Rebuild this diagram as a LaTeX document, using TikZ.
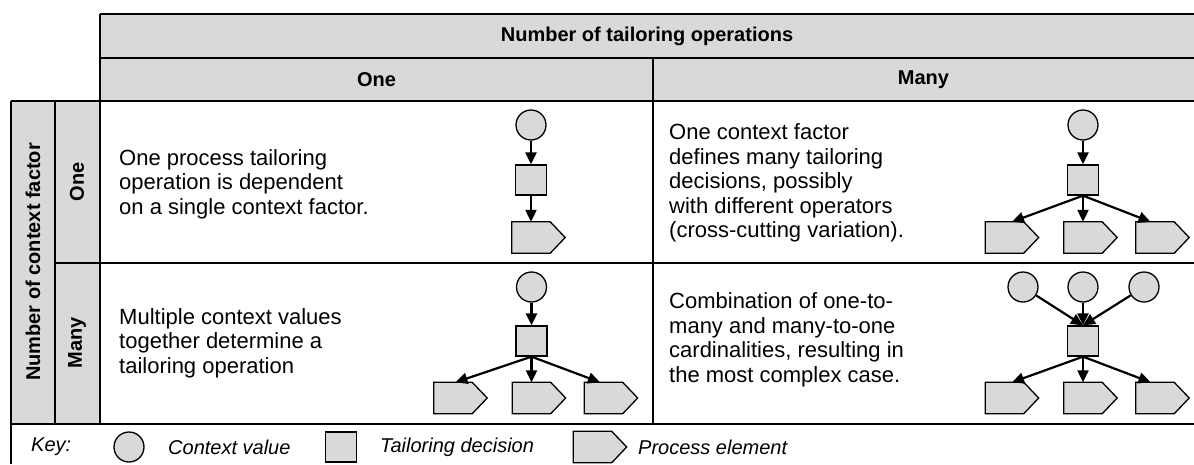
\documentclass[tikz,border=0pt]{standalone}
\usepackage{fontspec}
\setmainfont{Liberation Sans}
\usetikzlibrary{arrows.meta}
\definecolor{cellgrey}{HTML}{D9D9D9}

% outline of a process element: a box with a pointed right side
\newcommand\pelshape[1]{%
  \draw[line width=1.3pt, fill=cellgrey]
    (#1.north west) -- ([xshift=-15pt]#1.north east) -- (#1.east)
    -- ([xshift=-15pt]#1.south east) -- (#1.south west) -- cycle;}

\begin{document}
\begin{tikzpicture}[x=1pt, y=-1pt,
  font=\fontsize{20}{22}\selectfont,
  grid/.style={line width=1.6pt, draw=black},
  ctx/.style={circle, draw, fill=cellgrey, line width=1.3pt, minimum size=30pt, inner sep=0},
  dec/.style={rectangle, draw, fill=cellgrey, line width=1.3pt, minimum width=31pt, minimum height=30pt, inner sep=0},
  pel/.style={minimum width=53pt, minimum height=31pt, inner sep=0},
  flow/.style={line width=2.2pt, -{Triangle[length=12pt, width=11pt]}},
  hdr/.style={font=\fontsize{20}{22}\selectfont\bfseries},
  body/.style={align=left, anchor=west, inner sep=0, font=\fontsize{22}{24.5}\selectfont},
  keytext/.style={anchor=west, inner sep=0, font=\fontsize{20}{22}\selectfont\itshape},
]
\useasboundingbox (0,0) rectangle (1194,464);

% table background and rules
\fill[cellgrey] (100,14) rectangle (1194,101);
\fill[cellgrey] (11,101) rectangle (100,424);
\draw[grid] (100,14) -- (1194,14);
\draw[grid] (100,58) -- (1194,58);
\draw[grid] (11,101) -- (1194,101);
\draw[grid] (55,263) -- (1194,263);
\draw[grid] (11,424) -- (1194,424);
\draw[grid] (11,101) -- (11,464);
\draw[grid] (55,101) -- (55,424);
\draw[grid] (100,14) -- (100,424);
\draw[grid] (653,58) -- (653,424);

% headers
\node[hdr] (hall) at (647,36) {Number of tailoring operations};
\node[hdr] (hone) at (376.5,80) {One};
\node[hdr] (hmany) at (923.5,80) {Many};
\node[hdr, rotate=90] (vall) at (33,262) {Number of context factor};
\node[hdr, rotate=90] (vone) at (77,182) {One};
\node[hdr, rotate=90] (vmany) at (77,343) {Many};

% cell texts
\node[body] (t11) at (119,184) {One process tailoring\\operation is dependent\\on a single context factor.};
\node[body] (t12) at (669,183) {One context factor\\defines many tailoring\\decisions, possibly\\with different operators\\(cross-cutting variation).};
\node[body] (t21) at (119,343) {Multiple context values\\together determine a\\tailoring operation};
\node[body] (t22) at (669,340) {Combination of one-to-\\many and many-to-one\\cardinalities, resulting in\\the most complex case.};

% one context factor, one operation
\node[ctx] (c11) at (531,125) {};
\node[dec] (d11) at (531,180) {};
\node[pel] (p11) at (538.5,237.5) {};
\pelshape{p11}
\draw[flow] (c11) -- (d11);
\draw[flow] (d11) -- (d11 |- p11.north);

% one context factor, many operations
\node[ctx] (c12) at (1083,125) {};
\node[dec] (d12) at (1083,180) {};
\node[pel] (p12a) at (1012,237.5) {};
\node[pel] (p12b) at (1090.5,237.5) {};
\node[pel] (p12c) at (1162.5,237.5) {};
\pelshape{p12a}\pelshape{p12b}\pelshape{p12c}
\draw[flow] (c12) -- (d12);
\draw[flow] (d12.south) -- (p12a.north);
\draw[flow] (d12) -- (d12 |- p12b.north);
\draw[flow] (d12.south) -- ([xshift=-12pt]p12c.north);

% many context factors, one operation
\node[ctx] (c21) at (531.5,287) {};
\node[dec] (d21) at (531.5,341) {};
\node[pel] (p21a) at (460.5,398) {};
\node[pel] (p21b) at (539,398) {};
\node[pel] (p21c) at (611,398) {};
\pelshape{p21a}\pelshape{p21b}\pelshape{p21c}
\draw[flow] (c21) -- (d21);
\draw[flow] (d21.south) -- ([xshift=-5pt]p21a.north);
\draw[flow] (d21) -- (d21 |- p21b.north);
\draw[flow] (d21.south) -- ([xshift=-11pt]p21c.north);

% many context factors, many operations
\node[ctx] (c22a) at (1023,287) {};
\node[ctx] (c22b) at (1083,287) {};
\node[ctx] (c22c) at (1144,287) {};
\node[dec] (d22) at (1083,341) {};
\node[pel] (p22a) at (1012,398) {};
\node[pel] (p22b) at (1090.5,398) {};
\node[pel] (p22c) at (1162.5,398) {};
\pelshape{p22a}\pelshape{p22b}\pelshape{p22c}
\draw[flow] (c22a) -- (d22.north);
\draw[flow] (c22b) -- (d22);
\draw[flow] (c22c) -- (d22.north);
\draw[flow] (d22.south) -- (p22a.north);
\draw[flow] (d22) -- (d22 |- p22b.north);
\draw[flow] (d22.south) -- ([xshift=-12pt]p22c.north);

% key
\node[keytext] (kkey) at (31,447) {Key:};
\node[ctx] (kctx) at (129,447) {};
\node[keytext] (kctxt) at (168,447) {Context value};
\node[dec] (kdec) at (341,447) {};
\node[keytext] (kdect) at (380,447) {Tailoring decision};
\node[pel] (kpel) at (600,447) {};
\pelshape{kpel}
\node[keytext] (kpelt) at (638,447) {Process element};
\end{tikzpicture}
\end{document}
